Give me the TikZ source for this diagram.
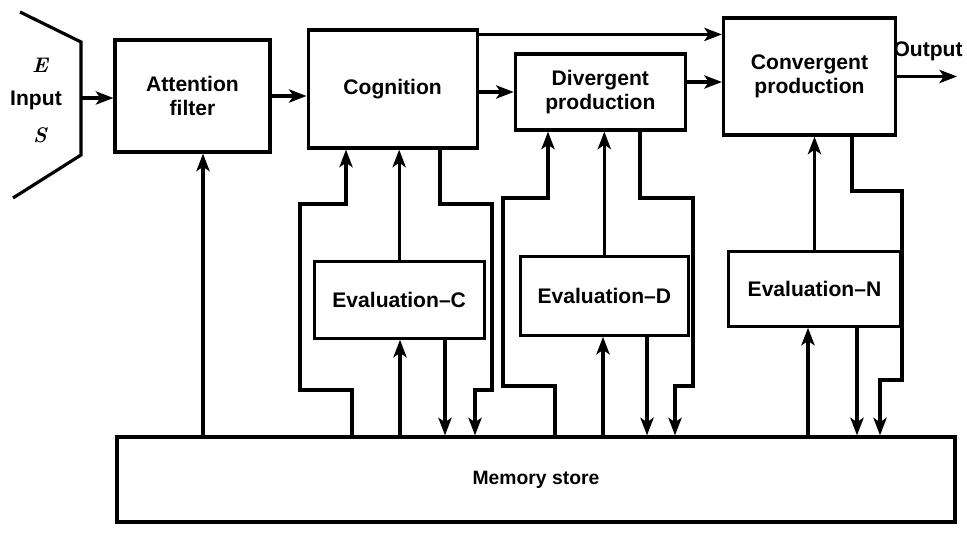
\documentclass[tikz,border=0pt]{standalone}
\usepackage{fontspec}
\setsansfont{Liberation Sans}
\usetikzlibrary{positioning}
\usetikzlibrary{calc}
\usetikzlibrary{arrows.meta}

\begin{document}
\begin{tikzpicture}[node distance=0.7cm,
    every node/.style={font=\sffamily\bfseries\fontsize{12}{13.5}\selectfont, align=center},
    block/.style={draw, line width=1.8pt, inner sep=0pt},
    wire/.style={line width=1.8pt},
    arr/.style={wire, -{Stealth[length=10pt,width=7.5pt,inset=2.5pt]}}]
    \useasboundingbox (0,0) rectangle (19.34,-10.66);

    % input stage
    \draw[wire] (0.4,-0.24) -- (1.62,-0.84) -- (1.62,-3.1) -- (0.26,-3.96);
    \coordinate (inp) at (1.62,-1.96);
    \node (e) at (0.8,-1.3) {\rmfamily\bfseries\itshape\large E};
    \node (input) at (0.72,-2.0) {Input};
    \node (s) at (0.8,-2.7) {\rmfamily\bfseries\itshape\large S};

    % main row
    \node (attn) [block, minimum width=3.1cm, minimum height=2.24cm] at (3.85,-1.92) {Attention\\filter};
    \node (cog) [block, minimum width=3.38cm, minimum height=2.36cm, right=of attn, yshift=0.14cm] {Cognition};
    \node (div) [block, minimum width=3.4cm, minimum height=1.52cm, right=of cog, yshift=-0.06cm] {Divergent\\production};
    \node (conv) [block, minimum width=3.44cm, minimum height=2.34cm, right=of div, yshift=0.31cm] {Convergent\\production};

    % evaluation row
    \node (evC) [block, minimum width=3.4cm, minimum height=1.54cm, below=2.2cm of cog, xshift=0.13cm] {Evaluation--C};
    \node (evD) [block, minimum width=3.36cm, minimum height=1.58cm, below=2.46cm of div, xshift=0.08cm] {Evaluation--D};
    \node (evN) [block, minimum width=3.44cm, minimum height=1.5cm, below=2.26cm of conv, xshift=0.1cm] {Evaluation--N};

    \node (mem) [block, minimum width=16.76cm, minimum height=1.7cm, font=\sffamily\bfseries\fontsize{11}{13}\selectfont] at (10.72,-9.59) {Memory store};

    % forward path
    \draw[arr] (inp) -- (inp -| attn.west);
    \draw[arr] (attn.east) -- (attn.east -| cog.west);
    \draw[arr] (div.west -| cog.east) -- (div.west);
    \draw[arr] ([yshift=-0.12cm]cog.north east) -- ([yshift=-0.12cm]cog.north east -| conv.west);
    \draw[arr] ([yshift=0.2cm]div.east) -- ([yshift=0.2cm]div.east -| conv.west);
    \coordinate (out) at ([xshift=1.2cm]conv.east);
    \draw[arr] (conv.east) -- (out);
    \node (outtxt) at ([shift={(-0.58,0.5)}]out) {Output};

    \draw[arr] (4.06,0 |- mem.north) -- (4.06,0 |- attn.south);

    % cognition loops
    \draw[arr] (7.04,0 |- mem.north) |- (6.0,-7.8) |- (6.92,-4.08) -- (6.92,0 |- cog.south);
    \draw[arr] (evC.north) -- (evC.north |- cog.south);
    \draw[arr] (8.0,0 |- mem.north) -- (8.0,0 |- evC.south);
    \draw[arr] (8.9,0 |- evC.south) -- (8.9,0 |- mem.north);
    \draw[arr] (8.8,0 |- cog.south) |- (9.84,-4.08) |- (9.5,-7.8) -- (9.5,0 |- mem.north);

    % divergent loops
    \draw[arr] (11.1,0 |- mem.north) |- (10.06,-7.72) |- (10.96,-3.96) -- (10.96,0 |- div.south);
    \draw[arr] (evD.north) -- (evD.north |- div.south);
    \draw[arr] (12.06,0 |- mem.north) -- (12.06,0 |- evD.south);
    \draw[arr] (12.94,0 |- evD.south) -- (12.94,0 |- mem.north);
    \draw[arr] (12.8,0 |- div.south) |- (13.86,-3.96) |- (13.5,-7.72) -- (13.5,0 |- mem.north);

    % convergent loops
    \draw[arr] (evN.north) -- (evN.north |- conv.south);
    \draw[arr] (16.16,0 |- mem.north) -- (16.16,0 |- evN.south);
    \draw[arr] (17.14,0 |- evN.south) -- (17.14,0 |- mem.north);
    \draw[arr] (17.04,0 |- conv.south) |- (18.04,-3.82) |- (17.6,-7.6) -- (17.6,0 |- mem.north);
\end{tikzpicture}
\end{document}
